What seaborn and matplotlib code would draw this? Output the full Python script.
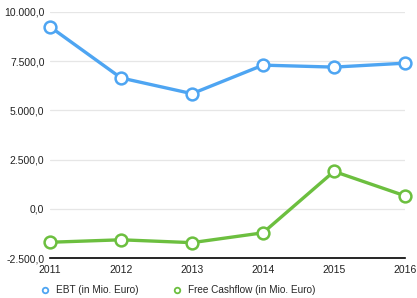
import matplotlib
matplotlib.use("Agg")
import matplotlib.pyplot as plt
import seaborn as sns
import pandas as pd
from matplotlib.ticker import FuncFormatter
from matplotlib.lines import Line2D

years = [2011, 2012, 2013, 2014, 2015, 2016]
ebt = [9250, 6650, 5850, 7300, 7200, 7400]
fcf = [-1700, -1575, -1720, -1220, 1900, 660]
labels = ["EBT (in Mio. Euro)", "Free Cashflow (in Mio. Euro)"]
colors = ["#4ea5f2", "#6cbf3f"]

df = pd.DataFrame({
    "year": years * 2,
    "value": ebt + fcf,
    "series": [labels[0]] * len(years) + [labels[1]] * len(years),
})

sns.set_theme(style="white")
plt.rcParams['font.family'] = ['Liberation Sans', 'DejaVu Sans']

fig = plt.figure(figsize=(4.17, 2.98), dpi=100)
ax = fig.add_axes([50/417, 40/298, 355/417, 246/298])

sns.lineplot(data=df, x="year", y="value", hue="series", palette=colors,
             marker="o", markersize=8.5, markerfacecolor="white",
             markeredgewidth=1.8, linewidth=2.4, ax=ax, legend=False)
for l in ax.lines:
    l.set_clip_on(False)
    l.set_markeredgecolor(l.get_color())

ax.set_xlim(2011, 2016)
ax.set_ylim(-2500, 10000)
ax.set_yticks([-2500, 0, 2500, 5000, 7500, 10000])
ax.set_xticks(years)
ax.yaxis.set_major_formatter(FuncFormatter(
    lambda v, p: f"{v:,.1f}".replace(",", "X").replace(".", ",").replace("X", ".")))
ax.grid(axis="y", color="#e6e6e6", linewidth=0.9)
ax.set_axisbelow(True)
for s in ["top", "right", "left"]:
    ax.spines[s].set_visible(False)
ax.spines["bottom"].set_color("black")
ax.spines["bottom"].set_linewidth(1.2)
ax.tick_params(axis="both", length=0, labelsize=7.5, colors="#222222")
ax.tick_params(axis="y", pad=4)
ax.tick_params(axis="x", pad=5)
ax.set_xlabel("")
ax.set_ylabel("")

handles = [Line2D([], [], linestyle="none", marker="o", markersize=4,
                  markerfacecolor="white", markeredgecolor=c, markeredgewidth=1.3)
           for c in colors]
fig.legend(handles, labels, loc="center left", bbox_to_anchor=(40/417, 8/298),
           ncol=2, frameon=False, fontsize=7.2, handletextpad=0.55, columnspacing=3.4,
           handlelength=1.0, borderpad=0.0, borderaxespad=0.0)

fig.savefig("out.png", dpi=100)
